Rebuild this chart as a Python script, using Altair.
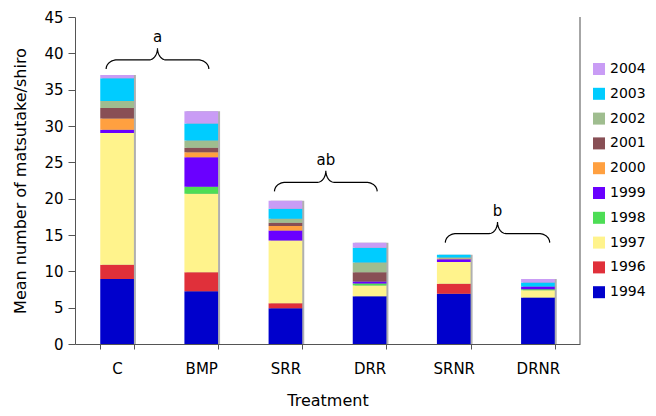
import altair as alt
import pandas as pd
import numpy as np

treatments = ["C", "BMP", "SRR", "DRR", "SRNR", "DRNR"]
years = ["1994", "1996", "1997", "1998", "1999", "2000", "2001", "2002", "2003", "2004"]
colors = ["#0000cc", "#e0303a", "#fff38c", "#4ddd55", "#6a00ff",
          "#ffa040", "#884f55", "#9fbd8f", "#00ccff", "#c99cf5"]

y1994 = [8.93, 7.27, 4.93, 6.58, 6.91, 6.40]
y1996 = [1.98, 2.62, 0.69, 0.00, 1.38, 0.00]
y1997 = [18.13, 10.80, 8.64, 1.48, 2.98, 1.00]
y1998 = [0.00, 0.96, 0.00, 0.27, 0.00, 0.15]
y1999 = [0.46, 4.04, 1.37, 0.28, 0.40, 0.35]
y2000 = [1.52, 0.69, 0.60, 0.00, 0.10, 0.00]
y2001 = [1.46, 0.64, 0.46, 1.28, 0.00, 0.00]
y2002 = [0.96, 0.97, 0.56, 1.34, 0.15, 0.00]
y2003 = [3.13, 2.34, 1.37, 2.02, 0.35, 0.55]
y2004 = [0.45, 1.69, 1.10, 0.69, 0.00, 0.50]
series = [y1994, y1996, y1997, y1998, y1999, y2000, y2001, y2002, y2003, y2004]

# significance groups (braces): label, centre (in category units), half-width, level
brace_labels = ["a", "ab", "b"]
brace_center = [0.98, 2.98, 5.02]
brace_half = [0.61, 0.61, 0.62]
brace_level = [39.1, 22.25, 15.2]

FONT = "DejaVu Sans"

rows = []
for i, (yr, vals) in enumerate(zip(years, series)):
    for t, v in zip(treatments, vals):
        rows.append({"treatment": t, "year": yr, "ord": i, "value": v})
df = pd.DataFrame(rows)


def brace_points(c, h, lvl, drop=1.25, rise=1.6, rx_end=0.13, rx_mid=0.1, n=14):
    pts = []
    x0 = c - h
    for th in np.linspace(0, np.pi / 2, n):
        pts.append((x0 + rx_end - rx_end * np.cos(th), lvl - drop + drop * np.sin(th)))
    for th in np.linspace(0, np.pi / 2, n):
        pts.append((c - rx_mid + rx_mid * np.sin(th), lvl + rise - rise * np.cos(th)))
    right = [(2 * c - x, y) for x, y in reversed(pts)]
    return pts + right


brows = []
trows = []
for lab, c, h, lvl in zip(brace_labels, brace_center, brace_half, brace_level):
    for k, (x, y) in enumerate(brace_points(c, h, lvl)):
        brows.append({"grp": lab, "k": k, "bx": x, "value": y})
    trows.append({"grp": lab, "bx": c, "value": lvl + 3.1})
bdf = pd.DataFrame(brows)
tdf = pd.DataFrame(trows)

ytitle = "Mean number of matsutake/shiro"
yscale = alt.Scale(domain=[0, 45], nice=False)
yaxis = alt.Axis(values=list(range(0, 46, 5)), grid=False, tickSize=7, title=ytitle)

xband = alt.Scale(paddingInner=0.6, paddingOuter=0.3)
xq = alt.Scale(domain=[0, 6], nice=False, zero=False)

color = alt.Color("year:N",
                  scale=alt.Scale(domain=years[::-1], range=colors[::-1]),
                  legend=alt.Legend(title=None, orient="none", legendX=517, legendY=45,
                                    symbolType="square", symbolSize=144,
                                    symbolStrokeWidth=0, labelFontSize=14,
                                    labelFont=FONT, rowPadding=10.8, labelOffset=4,
                                    padding=0))

shadow = alt.Chart(df).transform_aggregate(
    value="sum(value)", groupby=["treatment"]
).mark_bar(color="#b0b0b0", xOffset=2).encode(
    x=alt.X("treatment:N", sort=treatments, scale=xband, axis=None),
    y=alt.Y("value:Q", scale=yscale, axis=yaxis, title=ytitle),
)

bars = alt.Chart(df).mark_bar().encode(
    x=alt.X("treatment:N", sort=treatments, scale=xband, title="Treatment",
            axis=alt.Axis(labelAngle=0, tickBand="extent", tickSize=5)),
    y=alt.Y("value:Q", scale=yscale, axis=yaxis, title=ytitle, stack="zero"),
    color=color,
    order=alt.Order("ord:Q", sort="ascending"),
)

braces = alt.Chart(bdf).mark_line(color="black", strokeWidth=1.2).encode(
    x=alt.X("bx:Q", scale=xq, axis=None),
    y=alt.Y("value:Q", scale=yscale, axis=yaxis, title=ytitle),
    detail="grp:N",
    order="k:Q",
)

labels = alt.Chart(tdf).mark_text(font=FONT, fontSize=15, color="black",
                                  baseline="middle").encode(
    x=alt.X("bx:Q", scale=xq, axis=None),
    y=alt.Y("value:Q", scale=yscale, axis=yaxis, title=ytitle),
    text="grp:N",
)

border = alt.Chart(pd.DataFrame({"z": [0]})).mark_rule(color="#888", strokeWidth=1.5).encode(
    x=alt.value(505), y=alt.value(0), y2=alt.value(327)
)

chart = alt.layer(shadow, bars, braces, labels, border).resolve_scale(
    x="independent"
).properties(
    width=505, height=327,
    autosize=alt.AutoSizeParams(type="none"),
    padding={"left": 67, "top": 9, "right": 68, "bottom": 64},
).configure_view(stroke=None).configure_axis(
    labelFont=FONT, titleFont=FONT, labelFontSize=15, titleFontSize=16,
    labelColor="black", titleColor="black", titleFontWeight="normal",
    domainColor="#555", tickColor="#555",
).configure_axisX(labelPadding=12, titlePadding=16).configure_axisY(
    labelPadding=5, titlePadding=15
)

chart.save("out.html", embed_options={"renderer": "svg", "actions": False})
